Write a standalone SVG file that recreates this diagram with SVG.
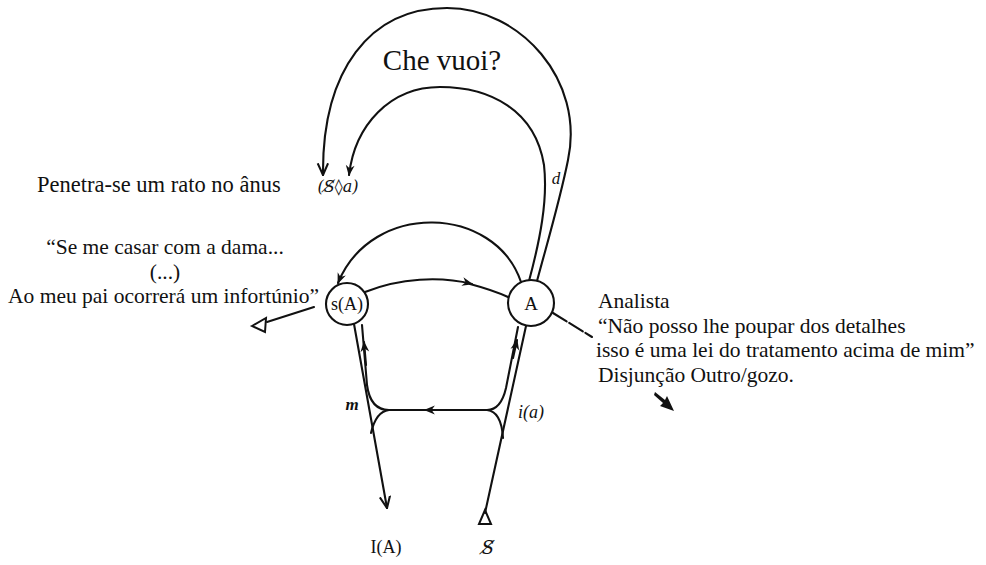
<svg xmlns="http://www.w3.org/2000/svg" width="986" height="565" viewBox="0 0 986 565">
<defs>
<marker id="fa" viewBox="0 0 10 10" refX="9" refY="5" markerWidth="12" markerHeight="11" orient="auto" markerUnits="userSpaceOnUse">
<path d="M0,1 L10,5 L0,9 L3,5 z" fill="#111"/>
</marker>
<marker id="oa" viewBox="0 0 10 10" refX="9" refY="5" markerWidth="13" markerHeight="13" orient="auto" markerUnits="userSpaceOnUse">
<path d="M0,1 L9,5 L0,9" fill="none" stroke="#111" stroke-width="1.6"/>
</marker>
</defs>
<style>
text{font-family:'Liberation Serif','Times New Roman','DejaVu Serif',serif;fill:#111}
.t{font-size:21.5px}
.m{font-style:italic}
.dj{font-family:'DejaVu Serif',serif;font-style:italic}
.ln{fill:none;stroke:#111;stroke-width:2.1;stroke-linecap:round}
.nd{fill:#fff;stroke:#111;stroke-width:2.1}
</style>
<rect width="986" height="565" fill="#fff"/>

<g id="connectors">
<path class="ln" d="M537 281 C548 240 560 200 568 160 C585 80 520 8 447 8 C370 8 322 70 323 175" marker-end="url(#oa)"/>
<path class="ln" d="M529 281 C540 240 548 200 544 165 C535 110 490 87 440 87 C390 87 355 125 349 175" marker-end="url(#fa)"/>
<path class="ln" d="M521 282 C495 205 372 200 338 283" marker-end="url(#fa)"/>
<path class="ln" d="M365 292 C400 278 440 276 472 284" marker-end="url(#fa)"/>
<path class="ln" d="M470 284 C485 288 497 292 508 297"/>
<path class="ln" d="M354 324 L387 508" marker-end="url(#oa)"/>
<path class="ln" d="M389 410 C376 410 369 400 367 385 L362 325"/>
<path class="ln" d="M366 365 L364 342" marker-end="url(#fa)"/>
<path class="ln" d="M389 410 C380 411 374 420 371 433"/>
<path class="ln" d="M487 410 L440 410"/>
<path class="ln" d="M445 410 L425 410" marker-end="url(#fa)"/>
<path class="ln" d="M425 410 L389 410"/>
<path class="ln" d="M487 410 C498 410 503 401 506 388 L518 327"/>
<path class="ln" d="M513 358 L517 340" marker-end="url(#fa)"/>
<path class="ln" d="M487 410 C497 411 502 422 503 438"/>
<path class="ln" d="M485 513 L526 326"/>
<polygon points="485,510 479,524 491,524" fill="none" stroke="#111" stroke-width="2"/>
<path class="ln" d="M314 307 L267 322"/>
<polygon points="252,326 266,318 265,332" fill="none" stroke="#111" stroke-width="2"/>
<path class="ln" d="M553 313 L592 337" stroke-width="2.6" stroke-dasharray="16 3"/>
<path d="M655 392 L665 400 L667 396 L674 411 L660 406 L663 403 L654 395 z" fill="#111"/>
</g>

<g id="node-sA">
<circle class="nd" cx="347" cy="304" r="21"/>
<text x="347" y="310" text-anchor="middle" font-size="18">s(A)</text>
</g>
<g id="node-A">
<circle class="nd" cx="531" cy="303" r="23"/>
<text x="531" y="310" text-anchor="middle" font-size="19">A</text>
</g>
<g id="node-fantasy">
<text class="dj" x="338" y="192" text-anchor="middle" font-size="16">(S̸◊a)</text>
</g>
<g id="node-IA">
<text x="386" y="553" text-anchor="middle" font-size="18">I(A)</text>
</g>
<g id="node-S">
<text class="dj" x="488" y="554" text-anchor="middle" font-size="18">S̸</text>
</g>

<g id="labels">
<text x="442" y="70" text-anchor="middle" font-size="29">Che vuoi?</text>
<text class="m" x="556" y="184" text-anchor="middle" font-size="17">d</text>
<text class="m" x="352" y="410" text-anchor="middle" font-size="17" font-weight="bold">m</text>
<text class="m" x="531" y="418" text-anchor="middle" font-size="18">i(a)</text>
<text x="37" y="192" font-size="22.5">Penetra-se um rato no ânus</text>
<text class="t" x="165" y="254" text-anchor="middle">“Se me casar com a dama...</text>
<text class="t" x="165" y="279" text-anchor="middle">(...)</text>
<text class="t" x="8" y="303">Ao meu pai ocorrerá um infortúnio”</text>
<text class="t" x="598" y="308">Analista</text>
<text class="t" x="598" y="333">“Não posso lhe poupar dos detalhes</text>
<text class="t" x="596" y="357">isso é uma lei do tratamento acima de mim”</text>
<text class="t" x="598" y="382">Disjunção Outro/gozo.</text>
</g>
</svg>
